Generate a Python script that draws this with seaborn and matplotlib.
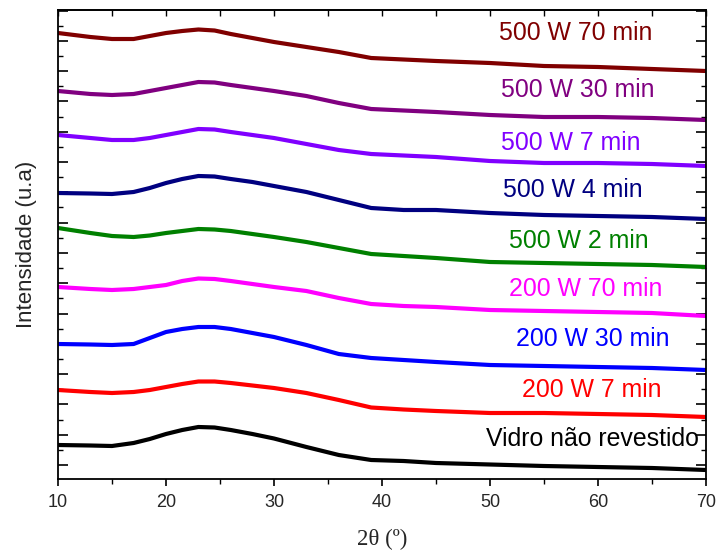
import numpy as np
import pandas as pd
import matplotlib
matplotlib.use("Agg")
import matplotlib.pyplot as plt
import seaborn as sns
from matplotlib.ticker import FixedLocator, MultipleLocator

# ---- data (arbitrary intensity units, already vertically offset) ----
two_theta = [10, 13, 15, 17, 18.5, 20, 21.5, 23, 24.5, 26, 28, 30, 33, 36, 39, 42, 45, 50, 55, 60, 65, 70]

vidro     = [34, 33.5, 33, 36, 40, 45, 49, 52, 51.5, 49, 45, 40.5, 32, 24, 19, 18, 16, 14.5, 13, 12, 11, 9]
w200_7    = [89, 87, 86, 87, 89, 92, 95, 97.5, 97.5, 96, 93.5, 91, 86, 79, 71.5, 69.5, 68, 66, 66, 65, 64, 62]
w200_30   = [135, 134.5, 134, 135, 141, 147, 150, 152, 152, 150, 146, 142, 134, 125, 121, 119, 117, 114, 113, 112, 111, 109]
w200_70   = [192, 190, 189, 190, 192, 194, 198, 200.5, 200, 198, 195, 192, 188, 181, 175, 173, 172, 169, 168, 167, 166, 163]
w500_2    = [251, 246, 243, 242, 243.5, 246, 248, 250, 249.5, 248, 245, 242, 237, 231, 225, 223, 221, 217, 216, 215, 214, 212]
w500_4    = [286, 285.5, 285, 287, 291, 296, 300, 303, 302.5, 300, 297, 293, 287, 279, 271, 269, 269, 266, 264, 263, 262, 260]
w500_7    = [344, 341, 339, 339, 341, 344, 347, 350, 349.5, 347, 344, 341, 335, 329, 325, 323.5, 322, 318, 316, 316, 315, 313]
w500_30   = [388, 385, 384, 385, 388, 391, 394, 397, 396.5, 394, 391, 388, 383, 376, 370, 368.5, 367, 364, 362, 362, 361, 359]
w500_70   = [446, 442, 440, 440, 443, 446, 448, 449.5, 448.5, 445, 441, 437, 432, 427, 421, 419.5, 418, 416, 413, 412, 410, 408]

labels = ["Vidro não revestido", "200 W 7 min", "200 W 30 min", "200 W 70 min",
          "500 W 2 min", "500 W 4 min", "500 W 7 min", "500 W 30 min", "500 W 70 min"]
series = [vidro, w200_7, w200_30, w200_70, w500_2, w500_4, w500_7, w500_30, w500_70]
colors = ["#000000", "#ff0000", "#0000ff", "#ff00ff", "#008000",
          "#000080", "#8000ff", "#800080", "#800000"]
# label anchor positions (2theta, intensity)
label_x = [49.63, 52.96, 52.4, 51.76, 51.76, 51.2, 51.02, 51.02, 50.83]
label_y = [40, 89, 140, 190, 238, 289, 336, 389, 446]

rows = []
for lab, vals in zip(labels, series):
    for x, v in zip(two_theta, vals):
        rows.append({"2theta": x, "I": v, "amostra": lab})
df = pd.DataFrame(rows)

sns.set_theme(style="white")
plt.rcParams["font.family"] = ["Liberation Sans", "DejaVu Sans"]

fig = plt.figure(figsize=(7.17, 5.52), dpi=100)
ax = fig.add_axes([58/717, 1-479/552, (706-58)/717, (479-10)/552])

sns.lineplot(data=df, x="2theta", y="I", hue="amostra", hue_order=labels,
             palette=dict(zip(labels, colors)), linewidth=3.0, legend=False, ax=ax,
             sort=True)

for lab, c, tx, ty in zip(labels, colors, label_x, label_y):
    ax.text(tx, ty, lab, color=c, fontsize=17.9, ha="left", va="center")

ax.set_xlim(10, 70)
ax.set_ylim(0, 469)

ax.xaxis.set_major_locator(MultipleLocator(10))
ax.xaxis.set_minor_locator(MultipleLocator(5))
ax.tick_params(axis="x", which="major", direction="out", length=5, width=1.2,
               labelsize=13, top=False, bottom=True, color="black", pad=6)
ax.tick_params(axis="x", which="minor", direction="out", length=3.5, width=1.0,
               top=False, bottom=True, color="black")

sec = ax.secondary_xaxis("top")
sec.xaxis.set_major_locator(MultipleLocator(5))
sec.tick_params(axis="x", direction="in", length=4, width=1.0, labeltop=False, color="black")
sec.spines["top"].set_linewidth(1.3)

majors = list(np.arange(14, 469, 30.3))
minors = list(np.arange(14 + 15.15, 469, 30.3))
ax.yaxis.set_major_locator(FixedLocator(majors))
ax.yaxis.set_minor_locator(FixedLocator(minors))
ax.tick_params(axis="y", which="major", direction="in", length=7, width=1.2,
               left=True, right=True, labelleft=False, color="black")
ax.tick_params(axis="y", which="minor", direction="in", length=3.8, width=1.0,
               left=True, right=True, color="black")

for s in ax.spines.values():
    s.set_visible(True)
    s.set_color("black")
    s.set_linewidth(1.3)

ax.set_xlabel("2θ (º)", fontsize=16.5, family=["Liberation Serif", "DejaVu Serif"], labelpad=13)
ax.set_ylabel("Intensidade (u.a)", fontsize=16, labelpad=12)

fig.savefig("out.png", dpi=100)
